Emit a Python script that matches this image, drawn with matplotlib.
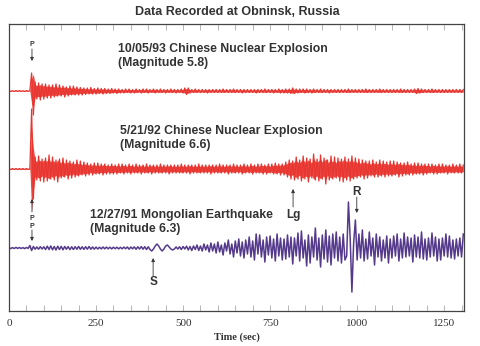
import numpy as np
import matplotlib
matplotlib.use('Agg')
import matplotlib.pyplot as plt
from matplotlib.ticker import MultipleLocator

dt = 5

# 10/05/93 Chinese nuclear explosion (Magnitude 5.8)
trace_1993 = [
    0.4, -0.4, 0.3, -0.4, 0.4, -0.3, 0.4, -0.4, 0.3, -0.4, 0.4, -0.3, 0.4, 18, -24, 9, -8, 8, -9, 7,
    -8, 7, -7, 6, -7, 6, -6, 7, -5, 6, -5, 5, -6, 4, -5, 5, -4, 5, -4, 4,
    -4, 3.5, -4, 3, -3.5, 3, -3, 3.5, -3, 2.5, -3, 3, -2.5, 2.5, -3, 2.5, -2.5, 2, -2.5, 2.5,
    -2, 2, -2.5, 2, -2, 1.5, -2, 2, -1.5, 2, -2, 1.5, -2, 2, -1.5, 1.5, -2, 2, -1.5, 2,
    -2, 1.5, -1.5, 2, -2, 1.5, -1.5, 2, -1.5, 1.5, -2, 1.5, -1.5, 2, -1.5, 1.5, -2, 1.5, -1.5, 2,
    -2, 3, -3.5, 3, -2, 1.5, -1.5, 2, -1.5, 1.5, -1.5, 1.5, -1.5, 1.5, -2, 1.5, -1.5, 1.5, -1.5, 1.5,
    -1.5, 1.5, -1.5, 2, -1.5, 1.5, -1.5, 1.5, -1.5, 2, -1.5, 1.5, -1.5, 1.5, -2, 1.5, -1.5, 1.5, -1.5, 1.5,
    -1.5, 1.5, -2, 1.5, -1.5, 1.5, -1.5, 2, -1.5, 1.5, -1.5, 1.5, -2, 1.5, -1.5, 2, -2, 1.5, -2, 2,
    -2, 2, -2.5, 3, -2.5, 2, -2, 2, -1.5, 2, -2, 2, -1.5, 1.5, -2, 2, -1.5, 1.5, -1.5, 2,
    -1.5, 1.5, -1.5, 1.5, -2, 1.5, -1.5, 1.5, -1.5, 1.5, -1.5, 1.5, -1.5, 1.5, -1.5, 2, -1.5, 1.5, -1.5, 1.5,
    -1.5, 1.5, -1.5, 1.5, -1.5, 2, -1.5, 1.5, -1.5, 1.5, -1.5, 1.5, -1.5, 2, -1.5, 1.5, -1.5, 1.5, -1.5, 1.5,
    -1.5, 1.5, -1.5, 1.5, -1.5, 2, -1.5, 1.5, -1.5, 1.5, -1.5, 1.5, -1.5, 2, -2.5, 2.5, -2, 2, -1.5, 1.5,
    -1.5, 1.5, -1.5, 2, -1.5, 1.5, -1.5, 1.5, -1.5, 1.5, -1.5, 1.5, -1.5, 1.5, -1.5, 1.5, -1.5, 1.5, -1.5, 1.5,
    -1.5, 1.5,
]

# 5/21/92 Chinese nuclear explosion (Magnitude 6.6)
trace_1992 = [
    0.5, -0.5, 0.5, -0.5, 0.5, -0.5, 0.5, -0.5, 0.5, -0.5, 0.5, -0.5, 0.5, 60, -30, 12, -11, 13, -12, 10,
    -13, 11, -12, 14, -10, 12, -11, 9, -13, 10, -9, 11, -8, 9, -10, 8, -9, 7, -8, 9,
    -7, 8, -6, 7, -7, 6, -6, 5, -6, 6, -5, 6, -5, 5, -6, 5, -5, 4, -5, 5,
    -5, 4, -5, 5, -4, 5, -5, 4, -4, 5, -5, 4, -4, 5, -4, 4, -5, 4, -4, 5,
    -4, 4, -5, 4, -4, 4, -4, 5, -4, 4, -4, 4, -5, 4, -4, 4, -4, 4, -4, 5,
    -4, 4, -4, 4, -5, 4, -4, 4, -4, 5, -4, 4, -4, 4, -4, 4, -5, 4, -4, 4,
    -4, 5, -4, 4, -4, 4, -5, 4, -4, 5, -4, 4, -4, 4, -5, 5, -4, 4, -4, 5,
    -5, 4, -4, 5, -4, 5, -5, 4, -5, 5, -4, 5, -5, 6, -5, 5, -6, 5, -6, 7,
    -8, 9, -10, 8, -11, 12, -10, 9, -12, 13, -10, 11, -13, 10, -9, 15, -11, 10, -12, 14,
    -10, 11, -15, 9, -11, 13, -10, 12, -9, 11, -12, 10, -13, 12, -11, 10, -12, 13, -10, 11,
    -9, 10, -8, 9, -10, 8, -9, 8, -7, 9, -8, 7, -8, 9, -7, 8, -8, 7, -7, 8,
    -7, 8, -6, 7, -8, 6, -7, 6, -6, 7, -6, 5, -6, 6, -5, 6, -5, 5, -6, 5,
    -5, 5, -4, 5, -5, 4, -5, 5, -4, 5, -4, 4, -5, 4, -4, 5, -4, 4, -4, 5,
    -4, 4,
]

# 12/27/91 Mongolian earthquake (Magnitude 6.3)
trace_1991 = [
    0.5, -0.6, 0.4, -0.5, 0.6, -0.4, 0.5, -0.5, 0.4, -0.6, 0.5, -0.4, 2.5, -2.5, 1.5, -1.2, 1, -1.2, 1.3, -1,
    1.2, -1.5, 1.8, -1.5, 2, -1.8, 1.5, -2, 1.8, -1.5, 1.6, -1.8, 1.5, -1.2, 1.4, -1.6, 1.2, -1.5, 1.3, -1.2,
    1.5, -1.3, 1.2, -1.4, 1.3, -1.2, 1.5, -1.2, 1, -1.1, 0.9, -1, 0.8, -0.9, 1, -0.8, 0.9, -0.8, 0.8, -0.9,
    0.8, -0.7, 0.8, -0.9, 0.7, -0.8, 0.9, -0.7, 1, -1.2, 1, -0.8, 1.1, -1.3, 1.2, -1, 1.4, -1.2, 1.3, -1.5,
    1.2, -1.5, -3, -1, 2, 4, 2, -1, -3, -1, 2, 3, 1, -1, -2, -1, 1, -1, 1.2, -1.5,
    1.5, -1, 1.8, -2, 1.5, -2.5, 2, -1.5, 3, -2.5, 2, -3, 4, -2, 3, -4, 5, -3, 4, -5,
    6, -4, 3, -7, 5, -3, 8, -6, 4, -9, 7, -5, 9, -8, 6, -10, 8, -6, 11, -9,
    7, -12, 14, -6, 13, -9, 8, -14, 11, -7, 12, -10, 9, -13, 14, -8, 10, -12, 9, -11,
    13, -9, 11, -16, 10, -8, 15, -13, 17, -10, 8, -18, 13, -15, 11, -9, 20, -12, 10, -19,
    13, -11, 18, -14, 12, -17, 14, -10, 16, -13, 11, -15, 14, -12, -8, 46, 10, -44, 5, 28,
    -12, 14, -10, 18, -13, 9, -11, 16, -8, 10, -17, 14, -9, 11, -13, 8, -10, 12, -15, 9,
    -10, 12, -8, 14, -13, 9, -10, 15, -9, 11, -8, 10, -14, 13, -9, 11, -10, 16, -11, 9,
    -12, 10, -9, 15, -8, 11, -13, 9, -12, 10, -8, 14, -9, 12, -10, 8, -11, 9, -8, 10,
    -9, 14,
]

baselines = [220, 142, 63]
red = '#e8352f'
purple = '#553a8c'
ink = '#333333'

plt.rcParams['font.family'] = ['Liberation Sans', 'DejaVu Sans']

fig = plt.figure(figsize=(4.8, 3.46), dpi=100)
ax = fig.add_axes([9 / 480, 35 / 346, 455 / 480, 287 / 346])

# the two explosion records: the dense paper trace reads as a band, so shade
# the swing on both sides of the baseline under the wiggle itself
for tr, base in [(trace_1993, baselines[0]), (trace_1992, baselines[1])]:
    t = np.arange(len(tr)) * dt
    amp = np.abs(np.array(tr))
    ax.fill_between(t, base - 0.7 * amp, base + 0.7 * amp, color=red, lw=0, alpha=0.9)
    ax.plot(t, base + np.array(tr), color=red, lw=0.9)

t = np.arange(len(trace_1991)) * dt
ax.plot(t, baselines[2] + np.array(trace_1991), color=purple, lw=1.1)

ax.set_xlim(0, 1307)
ax.set_ylim(0, 287)
ax.set_yticks([])
ax.set_xticks([0, 250, 500, 750, 1000, 1250])
ax.xaxis.set_minor_locator(MultipleLocator(50))
ax.tick_params(axis='x', which='both', direction='in', top=True, length=4,
               color='#aaaaaa', width=0.6, labelsize=8, labelcolor=ink, pad=6)
for lbl in ax.get_xticklabels():
    lbl.set_family('Liberation Serif')
for sp in ax.spines.values():
    sp.set_color('#444444')
    sp.set_linewidth(0.9)

ax.set_xlabel('Time (sec)', family='Liberation Serif', fontsize=7.5, fontweight='bold',
              color=ink, labelpad=3)

fig.text(237 / 480, 1 - 12 / 346, 'Data Recorded at Obninsk, Russia', ha='center', va='center',
         fontsize=9, fontweight='bold', color=ink)

# event labels
lab = dict(fontsize=8.8, fontweight='bold', color=ink, va='center')
ax.text(313, 262, '10/05/93 Chinese Nuclear Explosion', **lab)
ax.text(313, 248, '(Magnitude 5.8)', **lab)
ax.text(319, 180, '5/21/92 Chinese Nuclear Explosion', **lab)
ax.text(319, 166, '(Magnitude 6.6)', **lab)
ax.text(233, 96, '12/27/91 Mongolian Earthquake', **lab)
ax.text(233, 82, '(Magnitude 6.3)', **lab)

# phase arrivals
arr = dict(arrowstyle='-|>', lw=0.6, color=ink, mutation_scale=5, shrinkA=0, shrinkB=0)
ph = dict(fontweight='bold', color=ink, ha='center', va='center')
ax.annotate('', xy=(66, 250), xytext=(66, 262), arrowprops=arr)
ax.text(66, 266, 'P', fontsize=5, **ph)
ax.annotate('', xy=(66, 112), xytext=(66, 99), arrowprops=arr)
ax.text(66, 93, 'P', fontsize=5, **ph)
ax.annotate('', xy=(66, 70), xytext=(66, 81), arrowprops=arr)
ax.text(66, 85, 'P', fontsize=5, **ph)
ax.annotate('', xy=(816, 122), xytext=(816, 104), arrowprops=arr)
ax.text(816, 96, 'Lg', fontsize=8.5, **ph)
ax.annotate('', xy=(999, 98), xytext=(999, 114), arrowprops=arr)
ax.text(999, 119, 'R', fontsize=8.5, **ph)
ax.annotate('', xy=(414, 53), xytext=(414, 35), arrowprops=arr)
ax.text(414, 29, 'S', fontsize=8.5, **ph)

fig.savefig('out.png', dpi=100, facecolor='white')
